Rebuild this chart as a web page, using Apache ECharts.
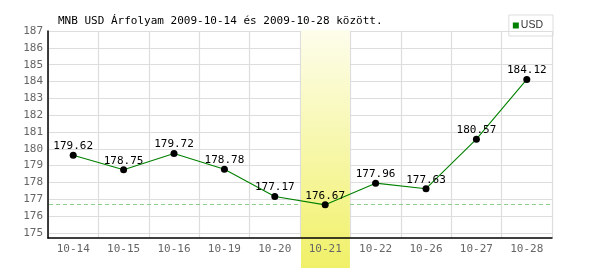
<!DOCTYPE html>
<html><head><meta charset="utf-8">
<script src="https://cdn.jsdelivr.net/npm/echarts@6/dist/echarts.min.js"></script>
<style>html,body{margin:0;padding:0;background:#fff}#c{width:600px;height:270px}</style>
</head><body><div id="c"></div>
<script>
var categories = ['10-14','10-15','10-16','10-19','10-20','10-21','10-22','10-26','10-27','10-28'];
var usdValues = [179.62,178.75,179.72,178.78,177.17,176.67,177.96,177.63,180.57,184.12];
var yTickValues = [175,176,177,178,179,180,181,182,183,184,185,186,187];
var highlightCategory = '10-21';
var titleText = 'MNB USD Árfolyam 2009-10-14 és 2009-10-28 között.';
var seriesName = 'USD';

var mono = 'DejaVu Sans Mono';
var minVal = Math.min.apply(null, usdValues);
var yMinAxis = 174.7, yMaxAxis = 187;
var chart = echarts.init(document.getElementById('c'), null, {renderer:'canvas'});
var option = {
  animation: false,
  backgroundColor: '#fff',
  color: ['#008000'],
  title: { text: titleText, left: 53, top: 11, textStyle: { fontFamily: mono, fontSize: 11, fontWeight: 'normal', color: '#000' } },
  legend: {
    right: 47, top: 15, orient: 'vertical',
    borderColor: '#ddd', borderWidth: 1, padding: [5, 10, 5, 4],
    itemWidth: 6, itemHeight: 6, itemGap: 2,
    icon: 'rect',
    textStyle: { fontFamily: 'Liberation Sans', fontSize: 10.5, color: '#333', padding: [0,0,0,-3] },
    data: [{ name: seriesName, itemStyle: { color: '#008000' } }]
  },
  grid: { left: 48, right: 48, top: 31, bottom: 32, containLabel: false },
  xAxis: {
    type: 'category', data: categories, boundaryGap: true,
    axisLine: { lineStyle: { color: '#000', width: 1.5 } },
    axisTick: { show: false },
    axisLabel: { fontFamily: mono, fontSize: 11, color: '#666', margin: 6 },
    splitLine: { show: true, lineStyle: { color: '#ddd', width: 1.2 } },
    z: 0
  },
  yAxis: {
    type: 'value', min: yMinAxis, max: yMaxAxis,
    axisLine: { show: true, lineStyle: { color: '#000', width: 1.5 } },
    axisTick: { show: false, customValues: yTickValues },
    axisLabel: { fontFamily: mono, fontSize: 11, color: '#666', margin: 5, customValues: yTickValues },
    splitLine: { show: true, lineStyle: { color: '#ddd', width: 1.2 } },
    z: 0
  },
  series: [{
    name: seriesName, type: 'line', data: usdValues, smooth: false,
    symbol: 'circle', symbolSize: 7,
    lineStyle: { color: '#008000', width: 1.1 },
    itemStyle: { color: '#000' },
    label: { show: true, position: 'top', distance: 0, fontFamily: mono, fontSize: 11, color: '#000', formatter: function(p){ return p.value.toFixed(2); } },
    z: 5
  }]
};
chart.setOption(option);
var cx = chart.convertToPixel({ xAxisIndex: 0 }, highlightCategory);
var cx2 = chart.convertToPixel({ xAxisIndex: 0 }, categories[categories.indexOf(highlightCategory) + 1]);
var bw = cx2 - cx;
var yTop = chart.convertToPixel({ yAxisIndex: 0 }, yMaxAxis);
var yBot = chart.convertToPixel({ yAxisIndex: 0 }, yMinAxis);
var yMin = Math.round(chart.convertToPixel({ yAxisIndex: 0 }, minVal)) - 0.5;
var xLeft = chart.convertToPixel({ xAxisIndex: 0 }, categories[0]) - bw / 2;
var xRight = chart.convertToPixel({ xAxisIndex: 0 }, categories[categories.length - 1]) + bw / 2;
var bandBottom = 268;
var bx = cx - bw / 2 + 1, bwid = bw - 1.5;
var totalH = bandBottom - (yTop - 1);
var splitFrac = (yBot - 1 - (yTop - 1)) / totalH;
var c0 = '#fdfdec', c1 = '#f0f068';
function mix(a, b, t) {
  var pa = [1,3,5].map(function(i){return parseInt(a.substr(i,2),16);});
  var pb = [1,3,5].map(function(i){return parseInt(b.substr(i,2),16);});
  return 'rgb(' + pa.map(function(v,i){return Math.round(v + (pb[i]-v)*t);}).join(',') + ')';
}
var cMid = mix(c0, c1, splitFrac);
chart.setOption({
  graphic: [{
    type: 'rect', z: 2, silent: true,
    shape: { x: bx, y: yTop - 1, width: bwid, height: yBot - 1 - (yTop - 1) },
    style: { fill: new echarts.graphic.LinearGradient(0, 0, 0, 1, [
      { offset: 0, color: c0 }, { offset: 1, color: cMid }
    ]) }
  }, {
    type: 'rect', z: -1, silent: true,
    shape: { x: bx, y: yBot - 1, width: bwid, height: bandBottom - (yBot - 1) },
    style: { fill: new echarts.graphic.LinearGradient(0, 0, 0, 1, [
      { offset: 0, color: cMid }, { offset: 1, color: c1 }
    ]) }
  }, {
    type: 'line', z: 1, silent: true,
    shape: { x1: xLeft + 1, y1: yMin, x2: xRight, y2: yMin },
    style: { stroke: '#8ccf8c', lineWidth: 1, lineDash: [4, 3] }
  }]
});
</script></body></html>
